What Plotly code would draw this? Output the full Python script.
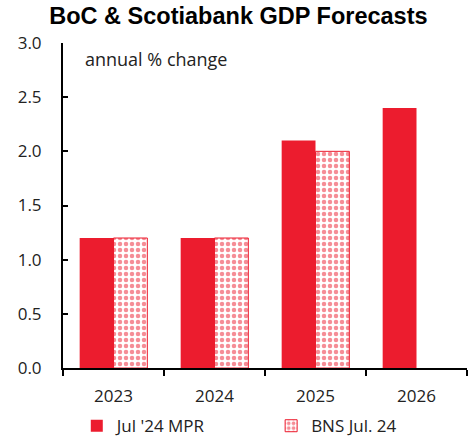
import plotly.graph_objects as go

years = ["2023", "2024", "2025", "2026"]
boc_mpr = [1.2, 1.2, 2.1, 2.4]
bns = [1.2, 1.2, 2.0, None]
y_ticks = [0.0, 0.5, 1.0, 1.5, 2.0, 2.5, 3.0]

RED = "#EC1C2E"

fig = go.Figure()
fig.add_trace(go.Bar(x=years, y=boc_mpr, name="Jul '24 MPR", legend="legend",
                     marker=dict(color=RED, line=dict(width=0))))
fig.add_trace(go.Bar(x=years, y=bns, name="BNS Jul. 24", legend="legend2",
                     marker=dict(color="white",
                                 line=dict(color=RED, width=1),
                                 pattern=dict(shape=".", fgcolor=RED, bgcolor="white",
                                               size=6, solidity=0.45, fillmode="overlay"))))

leg_common = dict(orientation="h", xanchor="left", xref="container",
                  y=0.027, yref="container", yanchor="middle",
                  font=dict(family="Open Sans", size=17, color="#222"), itemwidth=30)

fig.update_layout(
    width=474, height=438,
    margin=dict(l=63, r=7, t=43, b=70, autoexpand=False),
    paper_bgcolor="white", plot_bgcolor="white",
    barmode="group", bargap=0.33, bargroupgap=0,
    font=dict(family="Open Sans", size=17, color="#222"),
    title=dict(text="<b>BoC & Scotiabank GDP Forecasts</b>", x=0.503, xanchor="center",
               xref="container", y=0.982, yanchor="top",
               font=dict(family="Liberation Sans, Arial", size=23.5, color="black")),
    showlegend=True,
    legend=dict(x=0.162, **leg_common),
    legend2=dict(x=0.572, **leg_common),
    annotations=[dict(text="annual % change", x=0.05, y=0.995, xref="paper", yref="paper",
                      xanchor="left", yanchor="top", showarrow=False,
                      font=dict(family="Open Sans", size=18, color="#222"))],
)
fig.update_xaxes(type="category", showline=True, linecolor="black", linewidth=2,
                 ticks="outside", ticklen=6, tickcolor="black", tickwidth=1.5,
                 tickson="boundaries", showgrid=False, ticklabelstandoff=12)
fig.update_yaxes(range=[0, 3.0], tickvals=y_ticks, tickformat=".1f",
                 showline=True, linecolor="black", linewidth=2,
                 ticks="inside", ticklen=5, tickcolor="black", tickwidth=1.5,
                 showgrid=False, zeroline=False, ticklabelstandoff=16)

fig.write_html("out.html")
